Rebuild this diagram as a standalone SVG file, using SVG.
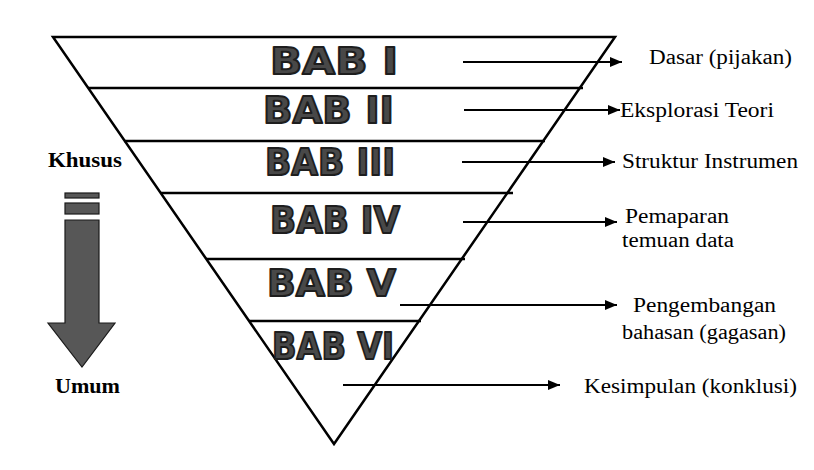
<svg xmlns="http://www.w3.org/2000/svg" width="814" height="470" viewBox="0 0 814 470">
<style>
.edge{stroke:#000;stroke-width:2.5;fill:none}
.bab{font-family:"DejaVu Sans",sans-serif;font-weight:bold;font-size:37px;fill:#484848;stroke:#1e1e1e;stroke-width:2;stroke-linejoin:round}
.lbl{font-family:"Liberation Serif","DejaVu Serif","Times New Roman",serif;font-size:20px;fill:#000}
.side{font-family:"Liberation Serif","DejaVu Serif","Times New Roman",serif;font-size:20px;font-weight:bold;fill:#000}
.arr{stroke:#000;stroke-width:2;fill:none;marker-end:url(#ah)}
.gray{fill:#575757;stroke:#1a1a1a;stroke-width:1.2}
</style>
<defs>
<marker id="ah" viewBox="0 0 10 10" refX="10" refY="5" markerWidth="6" markerHeight="6" markerUnits="strokeWidth" orient="auto">
<path d="M0,0.8 L10,5 L0,9.2 z" fill="#000"/>
</marker>
</defs>
<rect width="814" height="470" fill="#fff"/>
<g id="pyramid">
<polygon class="edge" points="53,37 615,37 334,444"/>
<line class="edge" x1="88" y1="88" x2="583" y2="88"/>
<line class="edge" x1="124" y1="141" x2="545" y2="141"/>
<line class="edge" x1="161" y1="193" x2="513" y2="193"/>
<line class="edge" x1="206" y1="259" x2="465" y2="259"/>
<line class="edge" x1="249" y1="321" x2="421" y2="321"/>
</g>
<g id="bab1"><text class="bab" x="270" y="74" textLength="128" lengthAdjust="spacingAndGlyphs">BAB I</text></g>
<g id="bab2"><text class="bab" x="263" y="123" textLength="131" lengthAdjust="spacingAndGlyphs">BAB II</text></g>
<g id="bab3"><text class="bab" x="265" y="175" textLength="130" lengthAdjust="spacingAndGlyphs">BAB III</text></g>
<g id="bab4"><text class="bab" x="270" y="233" textLength="130" lengthAdjust="spacingAndGlyphs">BAB IV</text></g>
<g id="bab5"><text class="bab" x="267" y="296" textLength="129" lengthAdjust="spacingAndGlyphs">BAB V</text></g>
<g id="bab6"><text class="bab" x="272" y="359" textLength="122" lengthAdjust="spacingAndGlyphs">BAB VI</text></g>
<g id="connectors">
<line class="arr" x1="463" y1="62" x2="622" y2="62"/>
<line class="arr" x1="464" y1="110" x2="620" y2="110"/>
<line class="arr" x1="462" y1="162" x2="615" y2="162"/>
<line class="arr" x1="463" y1="222" x2="617" y2="222"/>
<line class="arr" x1="400" y1="305" x2="617" y2="305"/>
<line class="arr" x1="343" y1="385" x2="560" y2="385"/>
</g>
<g id="l1"><text class="lbl" x="649" y="64" textLength="143" lengthAdjust="spacingAndGlyphs">Dasar (pijakan)</text></g>
<g id="l2"><text class="lbl" x="620" y="117" textLength="154" lengthAdjust="spacingAndGlyphs">Eksplorasi Teori</text></g>
<g id="l3"><text class="lbl" x="622" y="168" textLength="176" lengthAdjust="spacingAndGlyphs">Struktur Instrumen</text></g>
<g id="l4"><text class="lbl" x="625" y="223" textLength="104" lengthAdjust="spacingAndGlyphs">Pemaparan</text><text class="lbl" x="622" y="247" textLength="112" lengthAdjust="spacingAndGlyphs">temuan data</text></g>
<g id="l5"><text class="lbl" x="633" y="312" textLength="143" lengthAdjust="spacingAndGlyphs">Pengembangan</text><text class="lbl" x="622" y="339" textLength="164" lengthAdjust="spacingAndGlyphs">bahasan (gagasan)</text></g>
<g id="l6"><text class="lbl" x="584" y="393" textLength="213" lengthAdjust="spacingAndGlyphs">Kesimpulan (konklusi)</text></g>
<g id="khusus"><text class="side" x="48" y="167" textLength="74" lengthAdjust="spacingAndGlyphs">Khusus</text></g>
<g id="umum"><text class="side" x="55" y="393" textLength="65" lengthAdjust="spacingAndGlyphs">Umum</text></g>
<g id="direction-arrow">
<rect class="gray" x="65" y="193" width="34" height="5"/>
<rect class="gray" x="65" y="203" width="34" height="11"/>
<path class="gray" d="M65,220 H99 V323 H115 L82,367 L48,323 H65 Z"/>
</g>
</svg>
